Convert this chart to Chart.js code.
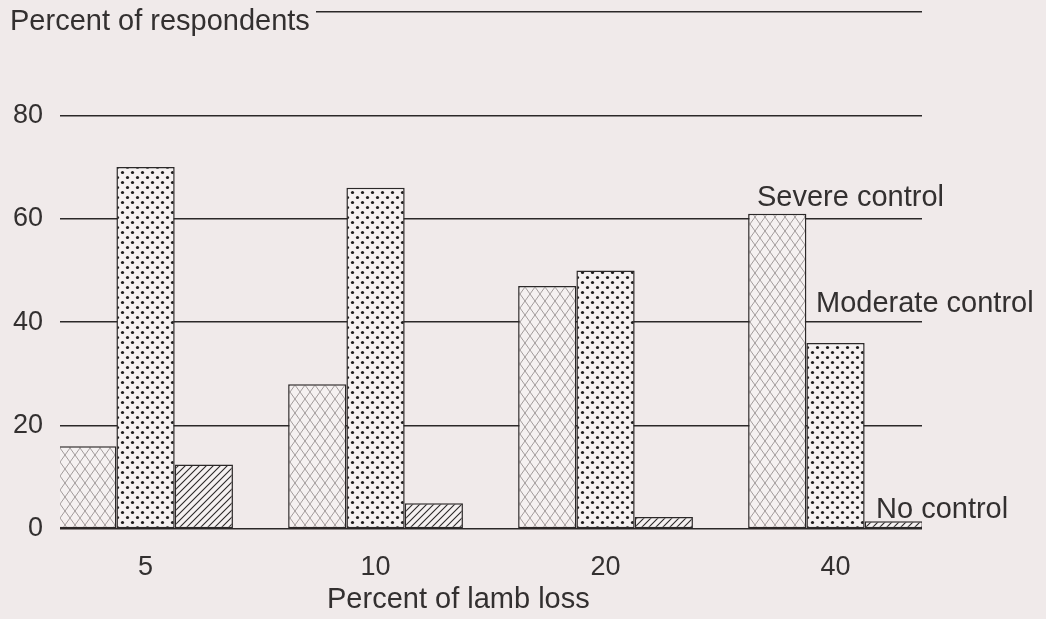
<!DOCTYPE html>
<html>
<head>
<meta charset="utf-8">
<script src="https://cdn.jsdelivr.net/npm/chart.js@4.4.1/dist/chart.umd.min.js"></script>
<style>
    html, body { margin: 0; padding: 0; background: #f0eaea; }
    #wrap { width: 1046px; height: 619px; }
</style>
</head>
<body>
<div id="wrap"><canvas id="lambChart" width="1046" height="619"></canvas></div>
<script>
const lossLabels = ['5', '10', '20', '40'];
const lossIndex = [0, 1, 2, 3];
const severeControl = [16, 28, 47, 61];
const moderateControl = [70, 66, 50, 36];
const noControl = [12.5, 5, 2.3, 1.5];
const yTicks = [0, 20, 40, 60, 80, 100];

const BG = '#f0eaea';
const INK = '#2b2828';
const FONT = '"Liberation Sans", Arial, sans-serif';

function makePattern(w, h, draw) {
    const c = document.createElement('canvas');
    c.width = w;
    c.height = h;
    const g = c.getContext('2d');
    g.fillStyle = '#f5f1f1';
    g.fillRect(0, 0, w, h);
    draw(g);
    return g.createPattern(c, 'repeat');
}

// diamond lattice for severe control
const crossPattern = makePattern(10, 14, g => {
    g.strokeStyle = '#8d8787';
    g.lineWidth = 0.8;
    g.beginPath();
    g.moveTo(0, 0); g.lineTo(10, 14);
    g.moveTo(10, 0); g.lineTo(0, 14);
    g.stroke();
});

// staggered dots for moderate control
const dotPattern = makePattern(10, 10, g => {
    g.fillStyle = '#1e1c1c';
    [[2.5, 2.5], [7.5, 7.5]].forEach(([x, y]) => {
        g.beginPath();
        g.arc(x, y, 1.6, 0, Math.PI * 2);
        g.fill();
    });
});

// diagonal hatch for no control
const hatchPattern = makePattern(7, 7, g => {
    g.strokeStyle = '#2b2828';
    g.lineWidth = 1.1;
    g.beginPath();
    g.moveTo(-1, 8); g.lineTo(8, -1);
    g.moveTo(-1, 1); g.lineTo(1, -1);
    g.moveTo(6, 8); g.lineTo(8, 6);
    g.stroke();
});

function toPoints(values) {
    return values.map((v, i) => ({ x: lossIndex[i], y: v }));
}

const textPlugin = {
    id: 'chartTexts',
    afterDraw(chart) {
        const ctx = chart.ctx;
        const area = chart.chartArea;
        ctx.save();
        // cover the top gridline where the axis caption sits
        ctx.fillStyle = BG;
        ctx.fillRect(area.left - 2, area.top - 4, 258, 8);
        ctx.fillStyle = '#333030';
        ctx.font = '29px ' + FONT;
        ctx.textAlign = 'left';
        ctx.textBaseline = 'alphabetic';
        ctx.fillText('Percent of respondents', 10, 30);
        ctx.fillText('Percent of lamb loss', 327, 608);
        ctx.fillText('Severe control', 757, 206);
        ctx.fillText('Moderate control', 816, 312);
        ctx.fillText('No control', 876, 518);
        ctx.restore();
    }
};

new Chart(document.getElementById('lambChart'), {
    type: 'bar',
    data: {
        datasets: [
            { label: 'Severe control', data: toPoints(severeControl), backgroundColor: crossPattern },
            { label: 'Moderate control', data: toPoints(moderateControl), backgroundColor: dotPattern },
            { label: 'No control', data: toPoints(noControl), backgroundColor: hatchPattern }
        ]
    },
    options: {
        responsive: false,
        animation: false,
        layout: { padding: { top: 12, bottom: 0, left: 0, right: 124 } },
        datasets: {
            bar: {
                categoryPercentage: 0.76,
                barPercentage: 1,
                borderColor: INK,
                borderWidth: 1.5,
                borderSkipped: false
            }
        },
        scales: {
            x: {
                type: 'linear',
                offset: false,
                min: -0.372,
                max: 3.376,
                afterBuildTicks: scale => { scale.ticks = lossIndex.map(v => ({ value: v })); },
                afterFit: scale => {
                    scale.height = 90;
                    scale.paddingLeft = 0;
                    scale.paddingRight = 0;
                },
                grid: { display: false },
                border: { display: false },
                ticks: {
                    padding: 14,
                    color: '#333030',
                    font: { family: FONT, size: 27 },
                    callback: v => lossLabels[v]
                }
            },
            y: {
                min: 0,
                max: 100,
                afterBuildTicks: scale => { scale.ticks = yTicks.map(v => ({ value: v })); },
                afterFit: scale => {
                    scale.width = 60;
                    scale.paddingTop = 0;
                    scale.paddingBottom = 0;
                },
                grid: { color: INK, lineWidth: 1.5, drawTicks: false },
                border: { display: false },
                ticks: {
                    padding: 17,
                    color: '#333030',
                    font: { family: FONT, size: 27 },
                    callback: v => (v === 100 ? '' : v)
                }
            }
        },
        plugins: {
            legend: { display: false },
            tooltip: { enabled: false }
        }
    },
    plugins: [textPlugin]
});
</script>
</body>
</html>
